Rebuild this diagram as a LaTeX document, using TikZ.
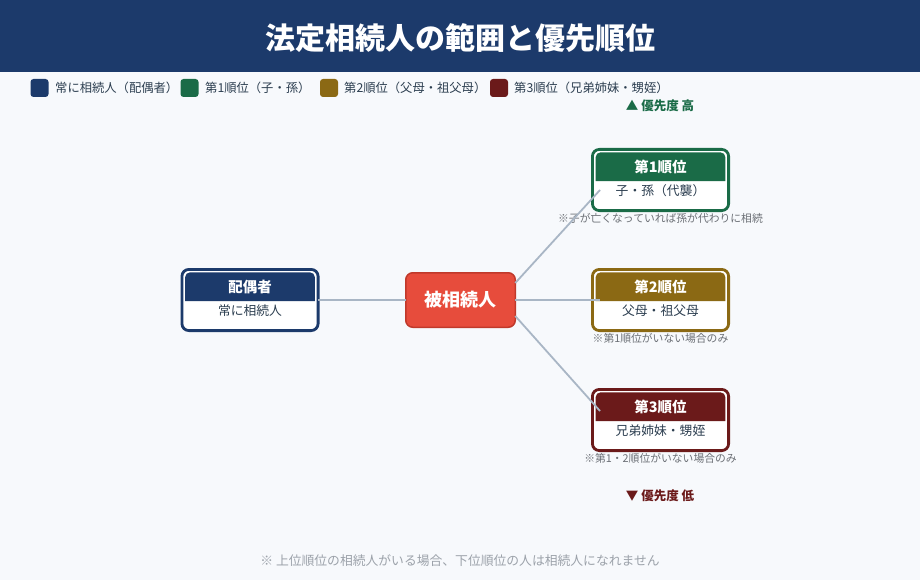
\documentclass[tikz,border=0pt]{standalone}
\usepackage{fontspec}
\setmainfont{Noto Sans CJK JP}
\usetikzlibrary{calc}
\definecolor{bgc}{HTML}{F7F9FC}
\definecolor{navy}{HTML}{1C3A6B}
\definecolor{grn}{HTML}{1A6B47}
\definecolor{gold}{HTML}{8B6914}
\definecolor{dred}{HTML}{6B1A1A}
\definecolor{redc}{HTML}{E74C3C}
\definecolor{redb}{HTML}{C0392B}
\definecolor{linec}{HTML}{A9B6C5}
\definecolor{txt}{HTML}{2C3E50}
\definecolor{note}{HTML}{6B6F75}
\definecolor{foot}{HTML}{9CA2AA}
\tikzset{
  rbox/.style={draw=#1,fill=white,line width=2.8pt,rounded corners=7pt,minimum width=136.2pt,minimum height=61.2pt,inner sep=0pt,outer sep=0pt},
  hdtxt/.style={text=white,font=\bfseries\fontsize{14.5}{16}\selectfont,inner sep=0pt},
  subtxt/.style={text=txt,font=\fontsize{12.8}{14}\selectfont,inner sep=0pt},
  notetxt/.style={text=note,font=\fontsize{10.8}{12}\selectfont,inner sep=0pt},
  legsq/.style={rounded corners=3pt,minimum size=18pt,inner sep=0pt,outer sep=0pt},
  legtxt/.style={text=txt,font=\fontsize{12.3}{14}\selectfont,inner sep=0pt,anchor=west},
  conn/.style={draw=linec,line width=1.8pt},
  prio/.style={font=\bfseries\fontsize{12.5}{14}\selectfont,inner sep=0pt}
}
\newcommand\rankbox[6]{%
  \node[rbox=#2] (#1) at (#3,#4) {};
  \fill[#2] ($(#1.north west)+(3.2,31.75)$) {[rounded corners=5pt] -- ($(#1.north west)+(3.2,2.9)$) -- ($(#1.north east)+(-3.2,2.9)$)} -- ($(#1.north east)+(-3.2,31.75)$) -- cycle;
  \node[hdtxt] (#1h) at ($(#1.center)+(0,-13)$) {#5};
  \node[subtxt] (#1s) at ($(#1.center)+(0,11)$) {#6};
}
\begin{document}
\begin{tikzpicture}[x=1pt,y=-1pt]
\useasboundingbox (0,0) rectangle (920,580);
\fill[bgc] (0,0) rectangle (920,580);
\fill[navy] (0,0) rectangle (920,72);
\node[text=white,font=\bfseries\fontsize{30}{32}\selectfont,inner sep=0pt] (title) at (460,38) {法定相続人の範囲と優先順位};
% legend
\node[legsq,fill=navy] (l1) at (39.5,88) {};
\node[legtxt] (lt1) at (55,88) {常に相続人（配偶者）};
\node[legsq,fill=grn] (l2) at (189.5,88) {};
\node[legtxt] (lt2) at (205,88) {第1順位（子・孫）};
\node[legsq,fill=gold] (l3) at (329,88) {};
\node[legtxt] (lt3) at (344,88) {第2順位（父母・祖父母）};
\node[legsq,fill=dred] (l4) at (499,88) {};
\node[legtxt] (lt4) at (514,88) {第3順位（兄弟姉妹・甥姪）};
% priority
\node[prio,text=grn] (phi) at (660,106) {▲ 優先度 高};
\node[prio,text=dred] (plo) at (660,496) {▼ 優先度 低};
% boxes
\rankbox{s}{navy}{250}{300}{配偶者}{常に相続人}
\rankbox{r1}{grn}{660.5}{180}{第1順位}{子・孫（代襲）}
\rankbox{r2}{gold}{660.5}{300}{第2順位}{父母・祖父母}
\rankbox{r3}{dred}{660.5}{420}{第3順位}{兄弟姉妹・甥姪}
% notes
\node[notetxt] (n1) at (660.5,218) {※子が亡くなっていれば孫が代わりに相続};
\node[notetxt] (n2) at (660.5,338) {※第1順位がいない場合のみ};
\node[notetxt] (n3) at (660.5,458) {※第1・2順位がいない場合のみ};
% center
\node[fill=redc,draw=redb,line width=1.5pt,rounded corners=7pt,minimum width=109.5pt,minimum height=54.5pt,inner sep=0pt,outer sep=0pt,text=white,font=\bfseries\fontsize{18}{20}\selectfont] (v) at (460.5,300) {被相続人};
% connectors
\coordinate (e1) at (600,190);
\coordinate (e2) at (600,300);
\coordinate (e3) at (600,411);
\draw[conn] (s.east) -- (v.west);
\draw[conn] ($(v.east)+(0,-17)$) -- (e1);
\draw[conn] (v.east) -- (e2);
\draw[conn] ($(v.east)+(0,16)$) -- (e3);
% footer
\node[text=foot,font=\fontsize{12.8}{14}\selectfont,inner sep=0pt] (ft) at (460,561) {※ 上位順位の相続人がいる場合、下位順位の人は相続人になれません};
\end{tikzpicture}
\end{document}
